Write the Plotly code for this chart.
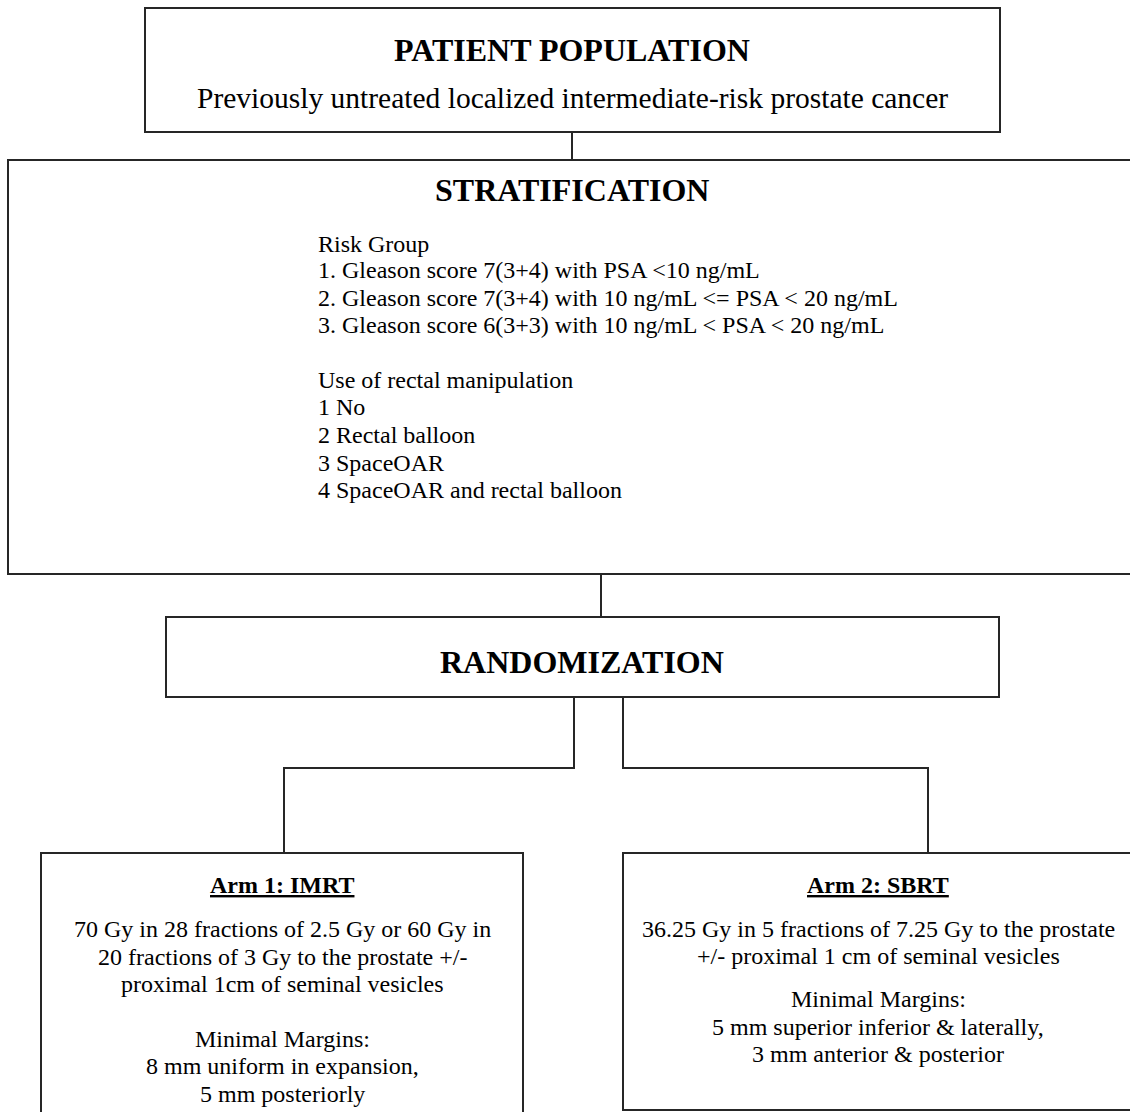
import plotly.graph_objects as go

# ---- Text content ----
population_title = "PATIENT POPULATION"
population_text = "Previously untreated localized intermediate-risk prostate cancer"

strat_title = "STRATIFICATION"
strat_lines = [
    "Risk Group",
    "1. Gleason score 7(3+4) with PSA &lt;10 ng/mL",
    "2. Gleason score 7(3+4) with 10 ng/mL &lt;= PSA &lt; 20 ng/mL",
    "3. Gleason score 6(3+3) with 10 ng/mL &lt; PSA &lt; 20 ng/mL",
    "Use of rectal manipulation",
    "1 No",
    "2 Rectal balloon",
    "3 SpaceOAR",
    "4 SpaceOAR and rectal balloon",
]

rand_title = "RANDOMIZATION"

arm1_title = "Arm 1: IMRT"
arm1_lines = [
    "70 Gy in 28 fractions of 2.5 Gy or 60 Gy in",
    "20 fractions of 3 Gy to the prostate +/-",
    "proximal 1cm of seminal vesicles",
    "Minimal Margins:",
    "8 mm uniform in expansion,",
    "5 mm posteriorly",
]

arm2_title = "Arm 2: SBRT"
arm2_lines = [
    "36.25 Gy in 5 fractions of 7.25 Gy to the prostate",
    "+/- proximal 1 cm of seminal vesicles",
    "Minimal Margins:",
    "5 mm superior inferior &amp; laterally,",
    "3 mm anterior &amp; posterior",
]

# ---- Layout geometry (pixels, y downward) ----
W, H = 1130, 1112
LINE_COLOR = "#262626"
FONT = "Liberation Serif, Times New Roman, serif"

boxes = [
    (145, 8, 1000, 132),     # patient population
    (8, 160, 1145, 574),     # stratification
    (166, 617, 999, 697),    # randomization
    (41, 853, 523, 1130),    # arm 1
    (623, 853, 1145, 1110),  # arm 2
]
connectors = [
    [(572, 132), (572, 160)],
    [(601, 574), (601, 617)],
    [(574, 697), (574, 768), (284, 768), (284, 853)],
    [(623, 697), (623, 768), (928, 768), (928, 853)],
]

fig = go.Figure()
shapes = []
for (x0, y0, x1, y1) in boxes:
    shapes.append(dict(type="rect", xref="x", yref="y", x0=x0, y0=y0, x1=x1, y1=y1,
                       line=dict(color=LINE_COLOR, width=2), fillcolor="rgba(0,0,0,0)"))
for pts in connectors:
    path = "M " + " L ".join(f"{x},{y}" for x, y in pts)
    shapes.append(dict(type="path", xref="x", yref="y", path=path,
                       line=dict(color=LINE_COLOR, width=2)))

annotations = []

def add_text(text, x, y, size, anchor="center"):
    annotations.append(dict(text=text, x=x, y=y, xref="x", yref="y", showarrow=False,
                            xanchor=anchor, yanchor="middle",
                            font=dict(family=FONT, size=size, color="#000000")))

add_text(f"<b>{population_title}</b>", 572, 50, 32)
add_text(population_text, 572, 98, 29.5)

add_text(f"<b>{strat_title}</b>", 572, 190, 32)
strat_y = [244, 270, 298, 325, 380, 407, 435, 463, 490]
for t, y in zip(strat_lines, strat_y):
    add_text(t, 316, y, 24, anchor="left")

add_text(f"<b>{rand_title}</b>", 582, 662, 32)

add_text(f"<b><u>{arm1_title}</u></b>", 282, 885, 24)
arm1_y = [929, 957, 984, 1039, 1066, 1094]
for t, y in zip(arm1_lines, arm1_y):
    add_text(t, 282, y, 24)

add_text(f"<b><u>{arm2_title}</u></b>", 878, 885, 24)
arm2_y = [929, 956, 999, 1027, 1054]
for t, y in zip(arm2_lines, arm2_y):
    add_text(t, 878, y, 24)

fig.update_layout(
    width=W, height=H,
    margin=dict(l=0, r=0, t=0, b=0),
    paper_bgcolor="white", plot_bgcolor="white",
    xaxis=dict(range=[0, W], visible=False, fixedrange=True),
    yaxis=dict(range=[H, 0], visible=False, fixedrange=True),
    shapes=shapes, annotations=annotations,
    showlegend=False,
)

fig.write_html(
    "out.html",
    config=dict(displayModeBar=False),
    post_script="document.body.style.margin='0';document.body.style.overflow='hidden';",
)
